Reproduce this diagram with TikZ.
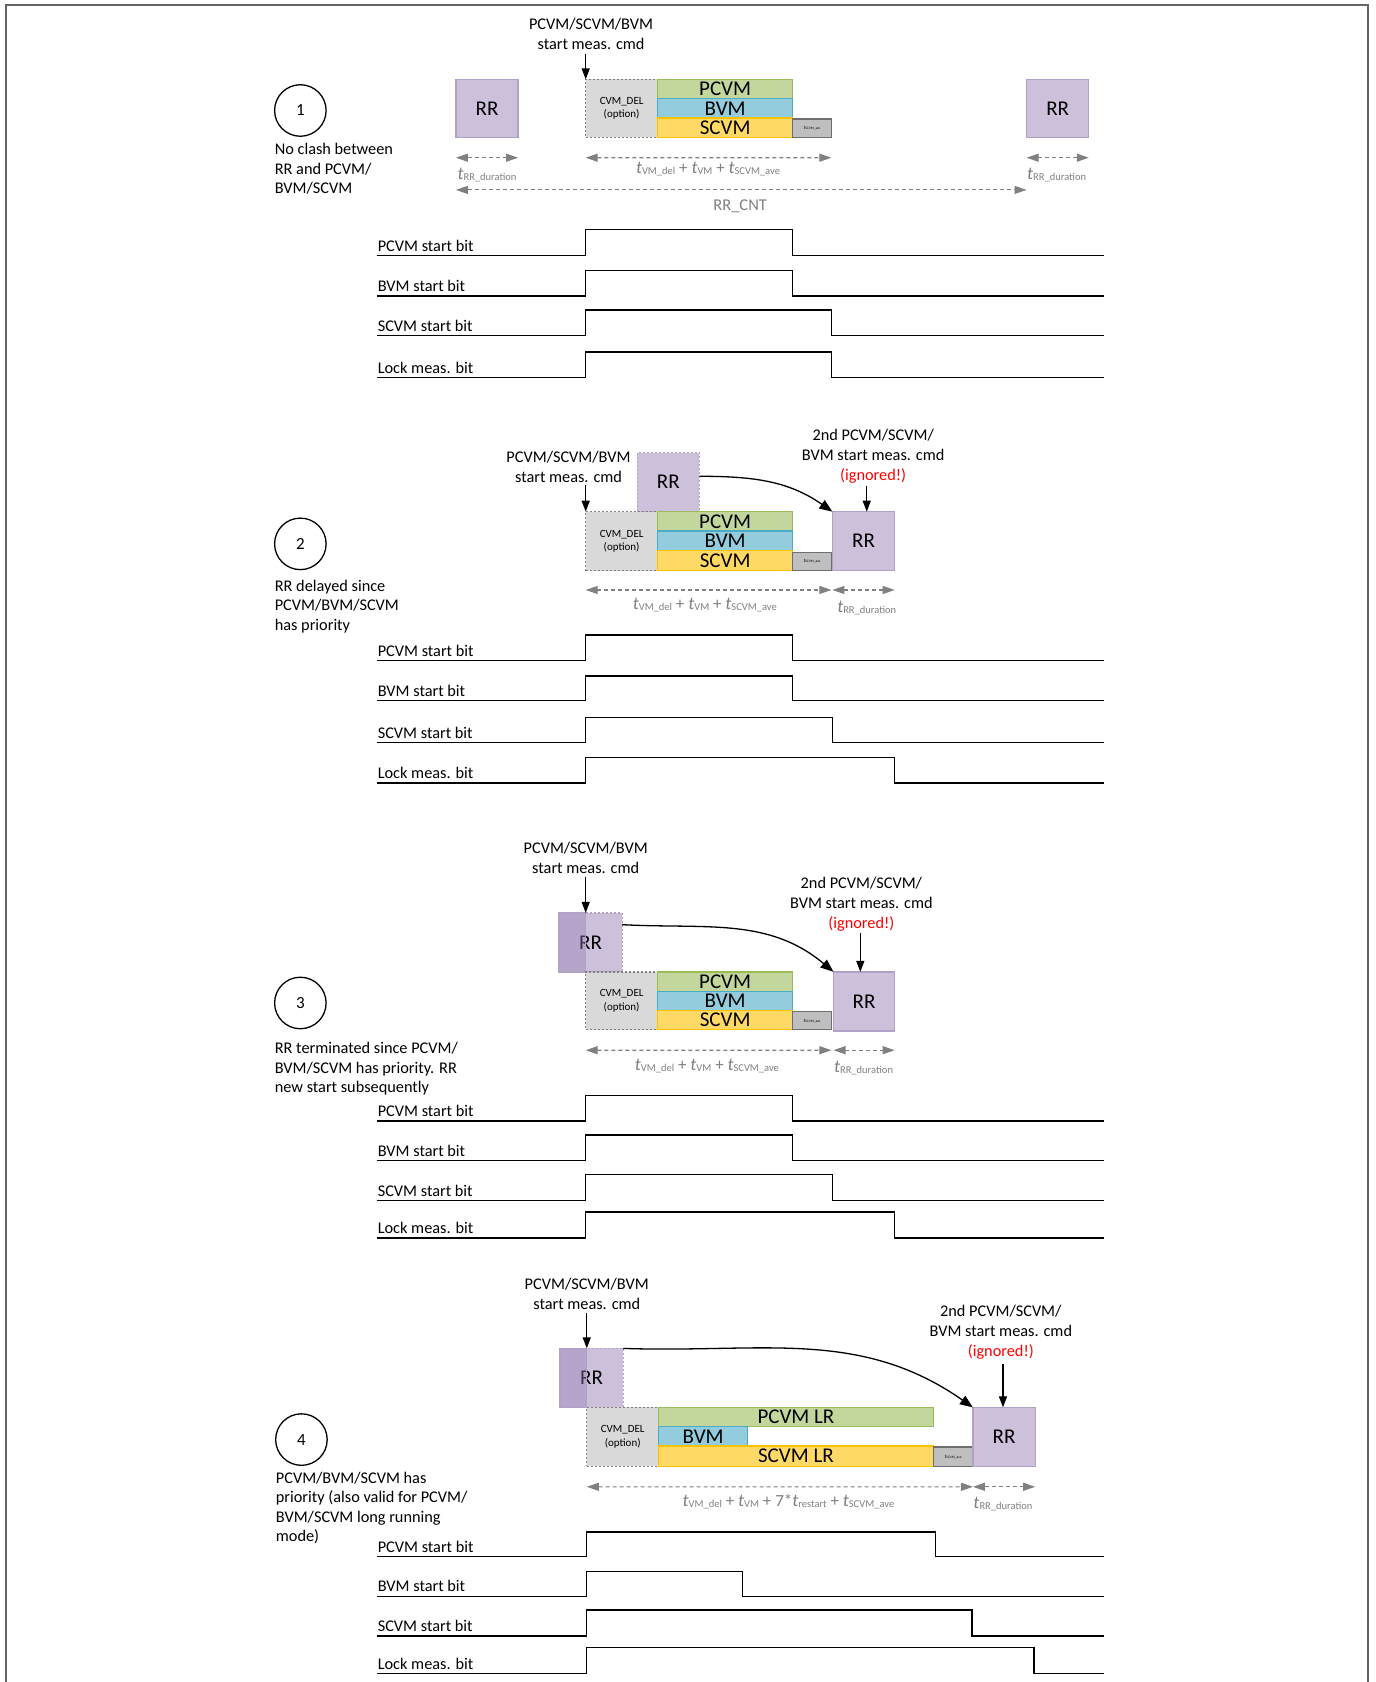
\documentclass[tikz,border=0pt]{standalone}
\usepackage{fontspec}
\setmainfont{Carlito}
\usetikzlibrary{arrows.meta}
\definecolor{rrfill}{RGB}{204,192,218}
\definecolor{rrdark}{RGB}{150,125,180}
\definecolor{rrline}{RGB}{178,161,199}
\definecolor{delfill}{RGB}{217,217,217}
\definecolor{delline}{RGB}{128,128,128}
\definecolor{pcfill}{RGB}{195,214,155}
\definecolor{pcline}{RGB}{155,187,89}
\definecolor{bvfill}{RGB}{147,205,221}
\definecolor{bvline}{RGB}{75,172,198}
\definecolor{scfill}{RGB}{255,217,102}
\definecolor{scline}{RGB}{255,192,0}
\definecolor{avefill}{RGB}{191,191,191}
\definecolor{aveline}{RGB}{110,110,110}
\definecolor{dimgray}{RGB}{128,128,128}
\definecolor{framegray}{RGB}{100,100,100}
\newcommand\tv[1]{{\fontsize{18}{18}\selectfont\itshape t}{\fontsize{10.5}{10.5}\selectfont\raisebox{-1pt}{#1}}}
\newcommand\tvs[1]{{\itshape t}{\fontsize{3.5}{4}\selectfont #1}}
\newcommand\bx[7]{\node[#2, minimum width={(#5-#3)*1.0725pt}, minimum height={(#6-#4)*1.0725pt}] (#1) at (#3,#4) {#7};}
\newcommand\sig[6]{%
  \node[siglbl] (#1) at (352,#3-4) {#2};
  \draw[sigline] (351,#3) -- (#5,#3) -- (#5,#4) -- (#6,#4) -- (#6,#3) -- (1029,#3);}
\tikzset{
  box/.style={anchor=north west, inner sep=0pt, outer sep=0pt, line width=1.3pt},
  rrbox/.style={box, fill=rrfill, draw=rrline, font=\fontsize{21}{21}\selectfont},
  rrghost/.style={rrbox, dash pattern=on 2pt off 2pt},
  rrover/.style={box, fill=rrdark, fill opacity=0.4, draw=rrline},
  delbox/.style={box, fill=delfill, draw=delline, dash pattern=on 2pt off 2pt, font=\fontsize{11}{13.5}\selectfont, align=center},
  pcbox/.style={box, fill=pcfill, draw=pcline, font=\fontsize{21}{21}\selectfont},
  bvbox/.style={box, fill=bvfill, draw=bvline, font=\fontsize{21}{21}\selectfont},
  scbox/.style={box, fill=scfill, draw=scline, font=\fontsize{21}{21}\selectfont},
  avebox/.style={box, fill=avefill, draw=aveline, font=\fontsize{5}{5}\selectfont},
  dim/.style={dimgray, line width=1.1pt, dash pattern=on 4pt off 3pt, {Triangle[length=12pt,width=8pt]}-{Triangle[length=12pt,width=8pt]}},
  dimlbl/.style={anchor=base, inner sep=0pt, text=dimgray, font=\fontsize{17}{17}\selectfont},
  cntlbl/.style={anchor=base, inner sep=0pt, text=dimgray, font=\fontsize{16.5}{17}\selectfont},
  cmdlbl/.style={align=center, inner sep=0pt, font=\fontsize{16.3}{20}\selectfont},
  desc/.style={anchor=north west, align=left, inner sep=0pt, font=\fontsize{16.3}{19.4}\selectfont},
  num/.style={circle, draw, line width=1.3pt, minimum size=51.5pt, inner sep=0pt, font=\fontsize{17}{17}\selectfont},
  cmdarr/.style={line width=1.3pt, -{Triangle[length=11pt,width=8pt]}},
  curv/.style={line width=1.3pt, -{Triangle[length=13pt,width=10pt]}},
  siglbl/.style={anchor=base west, inner sep=0pt, font=\fontsize{16.3}{17}\selectfont},
  sigline/.style={line width=1.4pt}
}
\begin{document}
\begin{tikzpicture}[x=1.0725pt,y=-1.0725pt]
\useasboundingbox (0,0) rectangle (1282,1568);
\fill[white] (0,0) rectangle (1282,1568);
\draw[framegray, line width=2pt] (5.6,1568) -- (5.6,4.7) -- (1275.5,4.7) -- (1275.5,1568);

% ================= Panel 1 =================
\node[num] (n1) at (280,103) {1};
\node[desc] (d1) at (256,133.5) {No clash between\\RR and PCVM/\\BVM/SCVM};
\node[cmdlbl] (cmd1) at (551,31.5) {PCVM/SCVM/BVM\\start meas. cmd};
\bx{rr1l}{rrbox}{425}{74}{483}{128}{RR}
\bx{del1}{delbox}{546}{74}{613}{128}{CVM\_DEL\\(option)}
\bx{pc1}{pcbox}{613}{74}{739}{92}{PCVM}
\bx{bv1}{bvbox}{613}{92}{739}{110}{BVM}
\bx{sc1}{scbox}{613}{110}{739}{128}{SCVM}
\bx{ave1}{avebox}{739}{111}{775}{128}{\tvs{SCVM\_ave}}
\bx{rr1r}{rrbox}{957}{74}{1015}{128}{RR}
\coordinate (c1) at (546,50);
\draw[cmdarr] (c1) -- (del1.north west);
\draw[dim] ([yshift=-20.4pt]rr1l.south west) -- ([yshift=-20.4pt]rr1l.south east);
\draw[dim] ([yshift=-20.4pt]del1.south west) -- ([yshift=-20.4pt]ave1.south east);
\draw[dim] ([yshift=-20.4pt]rr1r.south west) -- ([yshift=-20.4pt]rr1r.south east);
\draw[dim] ([yshift=-52.6pt]rr1l.south west) -- ([yshift=-52.6pt]rr1r.south west);
\node[dimlbl] (tr1a) at (454,167) {\tv{RR\_duration}};
\node[dimlbl] (tv1) at (660,161.5) {\tv{VM\_del} + \tv{VM} + \tv{SCVM\_ave}};
\node[dimlbl] (tr1b) at (985,167) {\tv{RR\_duration}};
\node[cntlbl] (cnt1) at (690,196) {RR\_CNT};
\sig{p1a}{PCVM start bit}{238}{214}{546}{739}
\sig{p1b}{BVM start bit}{276}{252}{546}{739}
\sig{p1c}{SCVM start bit}{313}{289}{546}{775}
\sig{p1d}{Lock meas. bit}{352}{328}{546}{775}

% ================= Panel 2 =================
\node[num] (n2) at (280,507) {2};
\node[desc] (d2) at (256,540.5) {RR delayed since\\PCVM/BVM/SCVM\\has priority};
\node[cmdlbl] (cmd2) at (530,435.5) {PCVM/SCVM/BVM\\start meas. cmd};
\bx{rr2a}{rrghost}{594}{422}{652}{477}{RR}
\bx{del2}{delbox}{546}{477}{613}{532}{CVM\_DEL\\(option)}
\bx{pc2}{pcbox}{613}{477}{739}{495}{PCVM}
\bx{bv2}{bvbox}{613}{495}{739}{513}{BVM}
\bx{sc2}{scbox}{613}{513}{739}{532}{SCVM}
\bx{ave2}{avebox}{739}{515}{775}{532}{\tvs{SCVM\_ave}}
\bx{rr2b}{rrbox}{776}{477}{834}{532}{RR}
\node[cmdlbl] (ign2) at (814,425) {2nd PCVM/SCVM/\\BVM start meas. cmd\\\textcolor{red}{(ignored!)}};
\coordinate (c2) at (546,452);
\draw[cmdarr] (c2) -- (del2.north west);
\coordinate (g2) at (808,453);
\draw[cmdarr] (g2) -- (g2 |- rr2b.north);
\draw[curv] ([yshift=5.9pt]rr2a.east) to[out=0,in=145] (rr2b.north west);
\draw[dim] ([yshift=-19.3pt]del2.south west) -- ([yshift=-19.3pt]ave2.south east);
\draw[dim] ([yshift=-19.3pt]rr2b.south west) -- ([yshift=-19.3pt]rr2b.south east);
\node[dimlbl] (tv2) at (657,568) {\tv{VM\_del} + \tv{VM} + \tv{SCVM\_ave}};
\node[dimlbl] (tr2) at (808,571) {\tv{RR\_duration}};
\sig{p2a}{PCVM start bit}{616}{592}{546}{739}
\sig{p2b}{BVM start bit}{653}{630}{546}{739}
\sig{p2c}{SCVM start bit}{692}{669}{546}{776}
\sig{p2d}{Lock meas. bit}{730}{706}{546}{834}

% ================= Panel 3 =================
\node[num] (n3) at (280,935) {3};
\node[desc] (d3) at (256,971.5) {RR terminated since PCVM/\\BVM/SCVM has priority. RR\\new start subsequently};
\node[cmdlbl] (cmd3) at (546,800) {PCVM/SCVM/BVM\\start meas. cmd};
\bx{rr3}{rrghost}{521}{851}{580}{906}{RR}
\bx{rr3d}{rrover}{521}{851}{546}{906}{}
\bx{del3}{delbox}{546}{906}{613}{960}{CVM\_DEL\\(option)}
\bx{pc3}{pcbox}{613}{906}{739}{924}{PCVM}
\bx{bv3}{bvbox}{613}{924}{739}{942}{BVM}
\bx{sc3}{scbox}{613}{942}{739}{960}{SCVM}
\bx{ave3}{avebox}{739}{943}{775}{960}{\tvs{SCVM\_ave}}
\bx{rr3b}{rrbox}{777}{906}{834}{961}{RR}
\node[cmdlbl] (ign3) at (803,843) {2nd PCVM/SCVM/\\BVM start meas. cmd\\\textcolor{red}{(ignored!)}};
\coordinate (c3) at (546,818);
\draw[cmdarr] (c3) -- (c3 |- rr3.north);
\coordinate (g3) at (802,870);
\draw[cmdarr] (g3) -- (g3 |- rr3b.north);
\draw[curv] ([yshift=-11.8pt]rr3.north east) to[out=-3,in=140] (rr3b.north west);
\draw[dim] ([yshift=-20.4pt]del3.south west) -- ([yshift=-20.4pt]ave3.south east);
\draw[dim] ([yshift=-19.3pt]rr3b.south west) -- ([yshift=-19.3pt]rr3b.south east);
\node[dimlbl] (tv3) at (659,998) {\tv{VM\_del} + \tv{VM} + \tv{SCVM\_ave}};
\node[dimlbl] (tr3) at (805,1000) {\tv{RR\_duration}};
\sig{p3a}{PCVM start bit}{1045}{1021}{546}{739}
\sig{p3b}{BVM start bit}{1082}{1058}{546}{739}
\sig{p3c}{SCVM start bit}{1119}{1095}{546}{776}
\sig{p3d}{Lock meas. bit}{1154}{1130}{546}{834}

% ================= Panel 4 =================
\node[num] (n4) at (281,1342) {4};
\node[desc] (d4) at (257,1372) {PCVM/BVM/SCVM has\\priority (also valid for PCVM/\\BVM/SCVM long running\\mode)};
\node[cmdlbl] (cmd4) at (547,1206) {PCVM/SCVM/BVM\\start meas. cmd};
\bx{rr4}{rrghost}{522}{1257}{581}{1312}{RR}
\bx{rr4d}{rrover}{522}{1257}{547}{1312}{}
\bx{del4}{delbox}{547}{1312}{614}{1367}{CVM\_DEL\\(option)}
\bx{pc4}{pcbox}{614}{1312}{870}{1330}{PCVM LR}
\bx{bv4}{bvbox}{614}{1330}{697}{1348}{BVM}
\bx{sc4}{scbox}{614}{1348}{870}{1367}{SCVM LR}
\bx{ave4}{avebox}{870}{1349}{907}{1367}{\tvs{SCVM\_ave}}
\bx{rr4b}{rrbox}{907}{1312}{965}{1367}{RR}
\node[cmdlbl] (ign4) at (933,1242) {2nd PCVM/SCVM/\\BVM start meas. cmd\\\textcolor{red}{(ignored!)}};
\coordinate (c4) at (547,1224);
\draw[cmdarr] (c4) -- (c4 |- rr4.north);
\coordinate (g4) at (935,1272);
\draw[cmdarr] (g4) -- (g4 |- rr4b.north);
\draw[curv] (rr4.north east) to[out=-2,in=145] (rr4b.north west);
\draw[dim] ([yshift=-20.4pt]del4.south west) -- ([yshift=-20.4pt]ave4.south east);
\draw[dim] ([yshift=-20.4pt]rr4b.south west) -- ([yshift=-20.4pt]rr4b.south east);
\node[dimlbl] (tv4) at (735,1404) {\tv{VM\_del} + \tv{VM} + 7*\tv{restart} + \tv{SCVM\_ave}};
\node[dimlbl] (tr4) at (935,1406) {\tv{RR\_duration}};
\sig{p4a}{PCVM start bit}{1451}{1428}{547}{872}
\sig{p4b}{BVM start bit}{1488}{1465}{547}{692}
\sig{p4c}{SCVM start bit}{1525}{1501}{547}{906}
\sig{p4d}{Lock meas. bit}{1560}{1536}{547}{964}
\end{tikzpicture}
\end{document}
